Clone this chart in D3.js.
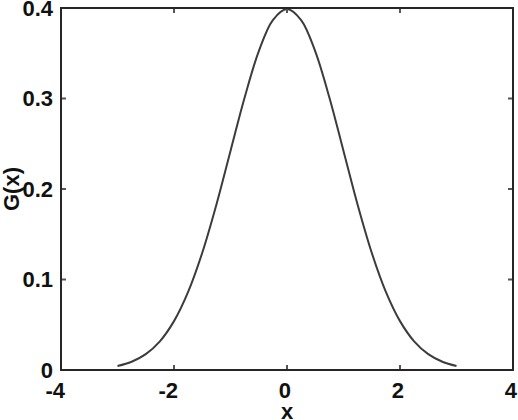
<!DOCTYPE html>
<html>
<head>
<meta charset="utf-8">
<script src="https://cdn.jsdelivr.net/npm/d3@7"></script>
<style>
  html, body { margin: 0; padding: 0; background: #fff; }
  svg { display: block; }
  .tick-label { font-family: "Liberation Sans", Arial, sans-serif; font-weight: bold; font-size: 22px; fill: #111; }
</style>
</head>
<body>
<div id="chart"></div>
<script>
// values, G(x)
var xValues = [-3, -2.75, -2.5, -2.25, -2, -1.75, -1.5, -1.25, -1, -0.75, -0.5, -0.25, 0,
               0.25, 0.5, 0.75, 1, 1.25, 1.5, 1.75, 2, 2.25, 2.5, 2.75, 3];
var gValues = [0.0044, 0.0091, 0.0175, 0.0317, 0.054, 0.0863, 0.1295, 0.1826, 0.242, 0.3011, 0.3521, 0.3867, 0.3989,
               0.3867, 0.3521, 0.3011, 0.242, 0.1826, 0.1295, 0.0863, 0.054, 0.0317, 0.0175, 0.0091, 0.0044];
var xTicks = [-4, -2, 0, 2, 4];
var xTickLabels = ["-4", "-2", "0", "2", "4"];
var yTicks = [0, 0.1, 0.2, 0.3, 0.4];
var yTickLabels = ["0", "0.1", "0.2", "0.3", "0.4"];

var width = 518, height = 420;
var box = { left: 61, right: 513, top: 8, bottom: 370 };

var svg = d3.select("#chart").append("svg")
    .attr("width", width)
    .attr("height", height);

var x = d3.scaleLinear().domain([-4, 4]).range([box.left, box.right]);
var y = d3.scaleLinear().domain([0, 0.4]).range([box.bottom, box.top]);

var points = xValues.map(function (v, i) { return [v, gValues[i]]; });

// curve
var line = d3.line()
    .x(function (d) { return x(d[0]); })
    .y(function (d) { return y(d[1]); })
    .curve(d3.curveCatmullRom);

svg.append("path")
    .datum(points)
    .attr("d", line)
    .attr("fill", "none")
    .attr("stroke", "#3c3c3c")
    .attr("stroke-width", 2);

// inward ticks on all four sides
var tickLen = 5;
var ticks = svg.append("g").attr("stroke", "#555").attr("stroke-width", 2);
xTicks.forEach(function (t) {
    ticks.append("line").attr("x1", x(t)).attr("x2", x(t)).attr("y1", box.bottom).attr("y2", box.bottom - tickLen);
    ticks.append("line").attr("x1", x(t)).attr("x2", x(t)).attr("y1", box.top).attr("y2", box.top + tickLen);
});
yTicks.forEach(function (t) {
    ticks.append("line").attr("x1", box.left).attr("x2", box.left + tickLen).attr("y1", y(t)).attr("y2", y(t));
    ticks.append("line").attr("x1", box.right).attr("x2", box.right - tickLen).attr("y1", y(t)).attr("y2", y(t));
});

// frame
svg.append("rect")
    .attr("x", box.left)
    .attr("y", box.top)
    .attr("width", box.right - box.left)
    .attr("height", box.bottom - box.top)
    .attr("fill", "none")
    .attr("stroke", "#262626")
    .attr("stroke-width", 2);

// tick labels
svg.append("g").selectAll("text")
    .data(xTicks)
    .join("text")
    .attr("class", "tick-label")
    .attr("x", function (d) { return x(d) + 4; })
    .attr("y", 398)
    .attr("text-anchor", "end")
    .text(function (d, i) { return xTickLabels[i]; });

svg.append("g").selectAll("text")
    .data(yTicks)
    .join("text")
    .attr("class", "tick-label")
    .attr("x", 53)
    .attr("y", function (d) { return y(d); })
    .attr("dy", "0.36em")
    .attr("text-anchor", "end")
    .text(function (d, i) { return yTickLabels[i]; });

// axis titles
svg.append("text")
    .attr("class", "tick-label")
    .attr("x", x(0))
    .attr("y", 419)
    .attr("text-anchor", "middle")
    .text("x");

svg.append("text")
    .attr("class", "tick-label")
    .attr("transform", "translate(19," + ((box.top + box.bottom) / 2) + ")rotate(-90)")
    .attr("text-anchor", "middle")
    .text("G(x)");
</script>
</body>
</html>
